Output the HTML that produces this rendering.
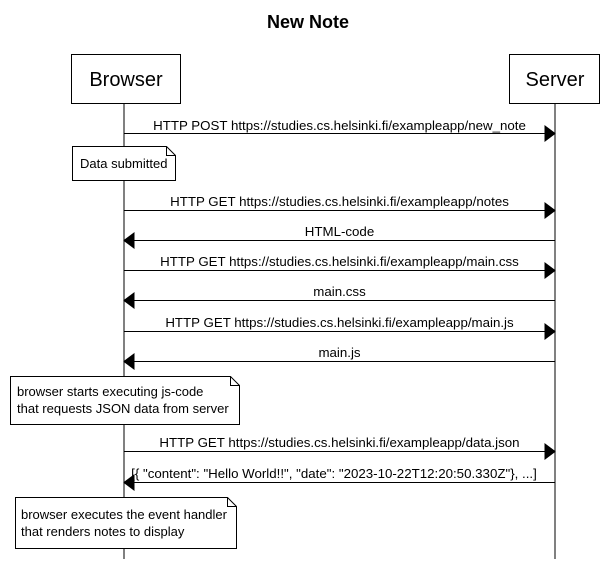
<!DOCTYPE html>
<html><head><style>body{margin:0;background:#fff}</style></head><body>
<svg width="616" height="559" xmlns="http://www.w3.org/2000/svg" font-family="Liberation Sans, Arial, sans-serif">
<rect width="616" height="559" fill="#fff"/>
<text x="308" y="28" text-anchor="middle" font-size="18" font-weight="bold">New Note</text>
<line x1="124" y1="103" x2="124" y2="559" stroke="#000"/>
<line x1="555" y1="103" x2="555" y2="559" stroke="#000"/>
<rect x="71.5" y="54.5" width="109" height="49" fill="#fff" stroke="#000"/>
<text x="126" y="86" text-anchor="middle" font-size="20">Browser</text>
<rect x="509.5" y="54.5" width="90" height="49" fill="#fff" stroke="#000"/>
<text x="555" y="86" text-anchor="middle" font-size="20">Server</text>
<g stroke="#000">
<line x1="124" y1="133.5" x2="545" y2="133.5"/><path d="M545 126 L555 133.5 L545 141Z" fill="#000"/>
<line x1="124" y1="210.5" x2="545" y2="210.5"/><path d="M545 203 L555 210.5 L545 218Z" fill="#000"/>
<line x1="134" y1="240.5" x2="555" y2="240.5"/><path d="M134 233 L124 240.5 L134 248Z" fill="#000"/>
<line x1="124" y1="270.5" x2="545" y2="270.5"/><path d="M545 263 L555 270.5 L545 278Z" fill="#000"/>
<line x1="134" y1="300.5" x2="555" y2="300.5"/><path d="M134 293 L124 300.5 L134 308Z" fill="#000"/>
<line x1="124" y1="331.5" x2="545" y2="331.5"/><path d="M545 324 L555 331.5 L545 339Z" fill="#000"/>
<line x1="134" y1="361.5" x2="555" y2="361.5"/><path d="M134 354 L124 361.5 L134 369Z" fill="#000"/>
<line x1="124" y1="451.5" x2="545" y2="451.5"/><path d="M545 444 L555 451.5 L545 459Z" fill="#000"/>
<line x1="134" y1="482.5" x2="555" y2="482.5"/><path d="M134 475 L124 482.5 L134 490Z" fill="#000"/>
</g>
<g font-size="13.3" text-anchor="middle">
<text x="339.5" y="130">HTTP POST https://studies.cs.helsinki.fi/exampleapp/new_note</text>
<text x="339.5" y="206">HTTP GET https://studies.cs.helsinki.fi/exampleapp/notes</text>
<text x="339.5" y="236">HTML-code</text>
<text x="339.5" y="266">HTTP GET https://studies.cs.helsinki.fi/exampleapp/main.css</text>
<text x="339.5" y="296">main.css</text>
<text x="339.5" y="327">HTTP GET https://studies.cs.helsinki.fi/exampleapp/main.js</text>
<text x="339.5" y="357">main.js</text>
<text x="339.5" y="447">HTTP GET https://studies.cs.helsinki.fi/exampleapp/data.json</text>
<text x="334" y="478">[{ "content": "Hello World!!", "date": "2023-10-22T12:20:50.330Z"}, ...]</text>
</g>
<g stroke="#000" fill="#fff">
<path d="M72.5 146.5 H166.5 L175.5 155.5 V180.5 H72.5Z"/><path d="M166.5 146.5 V155.5 H175.5" fill="none"/>
<path d="M10.5 376.5 H230.5 L239.5 385.5 V424.5 H10.5Z"/><path d="M230.5 376.5 V385.5 H239.5" fill="none"/>
<path d="M15.5 497.5 H227.5 L236.5 506.5 V548.5 H15.5Z"/><path d="M227.5 497.5 V506.5 H236.5" fill="none"/>
</g>
<g font-size="13">
<text x="80" y="168">Data submitted</text>
<text x="17" y="396">browser starts executing js-code</text>
<text x="17" y="413">that requests JSON data from server</text>
<text x="21" y="519">browser executes the event handler</text>
<text x="21" y="536">that renders notes to display</text>
</g>
</svg>
</body></html>
